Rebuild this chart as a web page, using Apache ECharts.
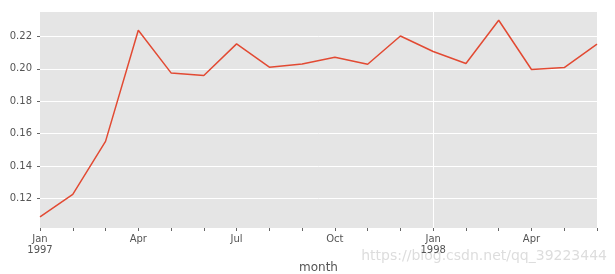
<!DOCTYPE html>
<html>
<head>
<meta charset="utf-8">
<script src="https://cdn.jsdelivr.net/npm/echarts@6/dist/echarts.min.js"></script>
<style>
html,body{margin:0;padding:0;background:#fff;}
#c{width:615px;height:274px;}
</style>
</head>
<body>
<div id="c"></div>
<script>
const months = ['1997-01','1997-02','1997-03','1997-04','1997-05','1997-06','1997-07','1997-08','1997-09','1997-10','1997-11','1997-12','1998-01','1998-02','1998-03','1998-04','1998-05','1998-06'];
const monthLabels = ['Jan\n1997','','','Apr','','','Jul','','','Oct','','','Jan\n1998','','','Apr','',''];
const values = [0.1085,0.1225,0.1552,0.2238,0.1975,0.1959,0.2154,0.2010,0.2030,0.2072,0.2028,0.2203,0.2107,0.2033,0.2300,0.1996,0.2008,0.2152];
const yTicks = [0.12,0.14,0.16,0.18,0.20,0.22];
const yMin = 0.1017, yMax = 0.2351;

const chart = echarts.init(document.getElementById('c'), null, {renderer:'canvas'});
chart.setOption({
  animation:false,
  backgroundColor:'#fff',
  grid:{left:40,right:18,top:12,bottom:46,show:true,backgroundColor:'#E5E5E5',borderWidth:0,outerBoundsMode:'none',containLabel:false},
  xAxis:{
    type:'category',
    data:months,
    boundaryGap:false,
    name:'month',
    nameLocation:'middle',
    nameGap:34,
    nameTextStyle:{fontSize:12,color:'#555',fontFamily:'DejaVu Sans'},
    axisLine:{show:false},
    axisTick:{show:true,length:3,lineStyle:{color:'#666'},interval:0},
    axisLabel:{
      interval:0,
      margin:6,
      fontSize:10,
      lineHeight:11,
      color:'#555',
      fontFamily:'DejaVu Sans',
      formatter:function(v,i){return monthLabels[i];}
    },
    splitLine:{show:true,lineStyle:{color:'#fff',width:1},interval:function(i){return i===12;}}
  },
  yAxis:{
    type:'value',
    min:yMin,max:yMax,
    axisLine:{show:false},
    axisTick:{show:true,length:3,inside:false,lineStyle:{color:'#666'},customValues:yTicks},
    axisLabel:{customValues:yTicks,fontSize:10,color:'#555',margin:8,fontFamily:'DejaVu Sans',
      formatter:function(v){return v.toFixed(2);}},
    splitLine:{show:true,lineStyle:{color:'#fff',width:1}}
  },
  series:[{
    type:'line',
    data:values,
    showSymbol:false,
    lineStyle:{color:'#E24A33',width:1.5},
    itemStyle:{color:'#E24A33'}
  }],
  graphic:[{
    type:'text',
    right:8,
    top:249,
    style:{text:'https://blog.csdn.net/qq_39223444',fill:'#dddddd',fontSize:14,fontFamily:'DejaVu Sans'}
  }]
});
</script>
</body>
</html>
